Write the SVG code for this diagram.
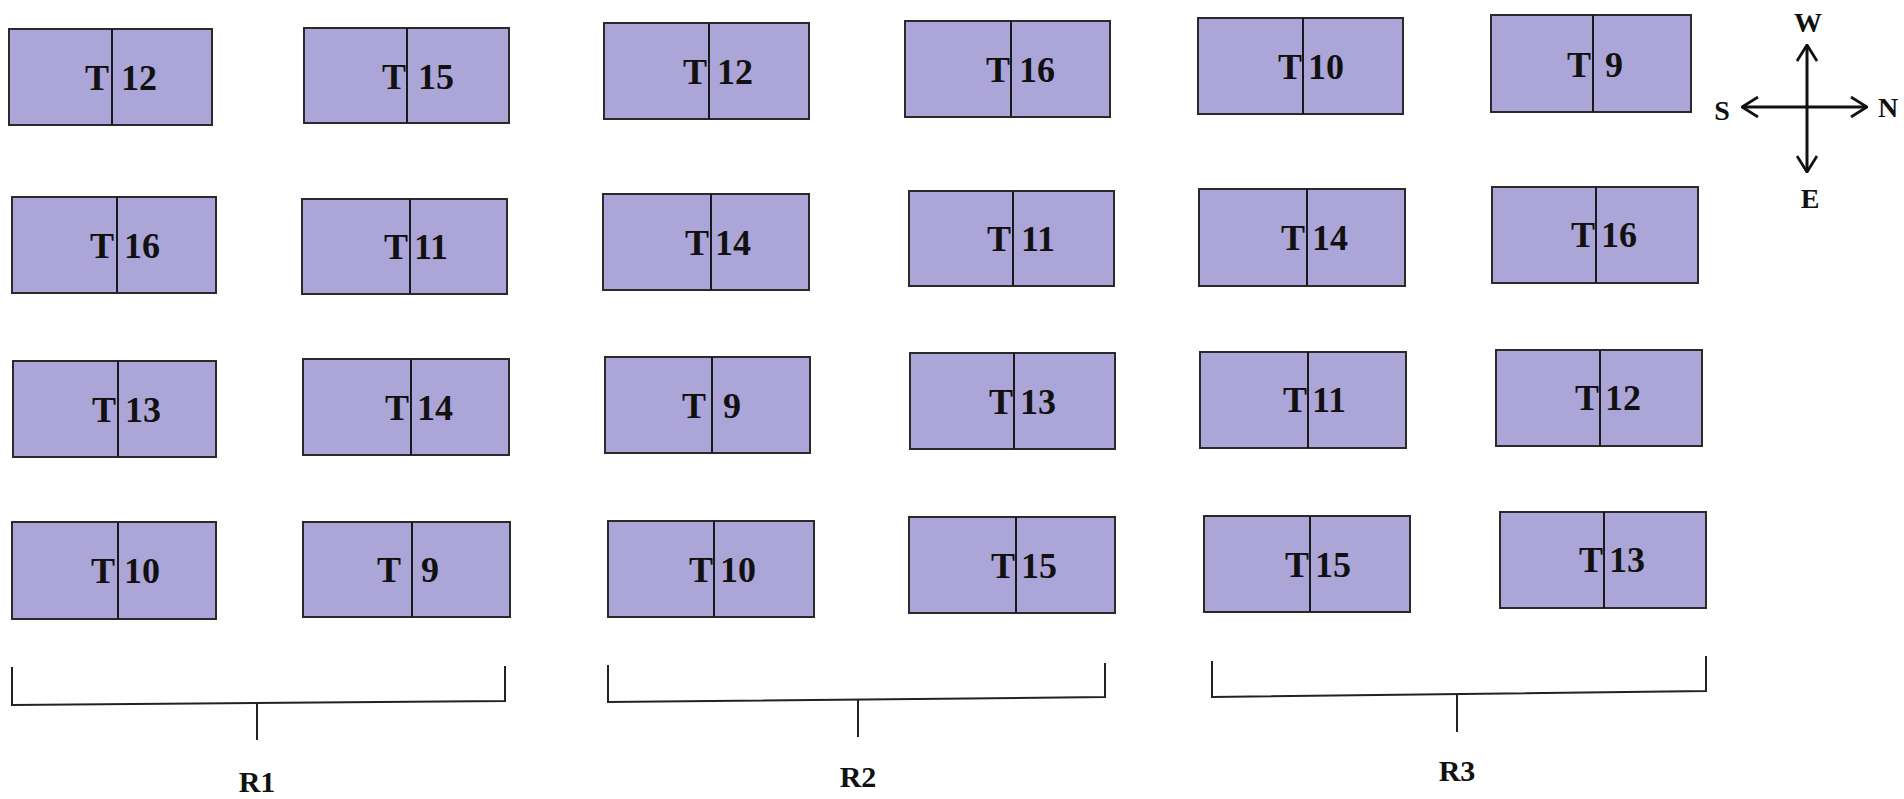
<svg xmlns="http://www.w3.org/2000/svg" width="1904" height="799" viewBox="0 0 1904 799">
<style>
.box{fill:#aca6d8;stroke:#2a2a2a;stroke-width:2}
.div{stroke:#1a1a1a;stroke-width:2}
.t{font-family:"Liberation Serif","Times New Roman",serif;font-weight:bold;font-size:36px;fill:#111}
.te{text-anchor:end}
.lbl{font-family:"Liberation Serif","Times New Roman",serif;font-weight:bold;font-size:30px;fill:#111;text-anchor:middle}
.cl{font-size:28px}
.br{fill:none;stroke:#222;stroke-width:2}
.ax{stroke:#111;stroke-width:3;fill:none}
</style>
<defs>
<marker id="ah" viewBox="0 0 18 22" refX="17" refY="11" markerWidth="18" markerHeight="22" markerUnits="userSpaceOnUse" orient="auto">
<path d="M1,1 L17,11 L1,21" fill="none" stroke="#111" stroke-width="2.8"/>
</marker>
</defs>
<rect width="1904" height="799" fill="#fff"/>

<g id="R1">
<g id="r1-1"><rect class="box" x="9" y="29" width="203" height="96"/><line class="div" x1="112" y1="29" x2="112" y2="125"/><text class="t te" x="109" y="90">T</text><text class="t" x="121" y="90">12</text></g>
<g id="r1-2"><rect class="box" x="304" y="28" width="205" height="95"/><line class="div" x1="407" y1="28" x2="407" y2="123"/><text class="t te" x="406" y="89">T</text><text class="t" x="418" y="89">15</text></g>
<g id="r1-3"><rect class="box" x="12" y="197" width="204" height="96"/><line class="div" x1="117" y1="197" x2="117" y2="293"/><text class="t te" x="114" y="258">T</text><text class="t" x="124" y="258">16</text></g>
<g id="r1-4"><rect class="box" x="302" y="199" width="205" height="95"/><line class="div" x1="410" y1="199" x2="410" y2="294"/><text class="t te" x="408" y="259">T</text><text class="t" x="414" y="259">11</text></g>
<g id="r1-5"><rect class="box" x="13" y="361" width="203" height="96"/><line class="div" x1="118" y1="361" x2="118" y2="457"/><text class="t te" x="116" y="422">T</text><text class="t" x="125" y="422">13</text></g>
<g id="r1-6"><rect class="box" x="303" y="359" width="206" height="96"/><line class="div" x1="411" y1="359" x2="411" y2="455"/><text class="t te" x="409" y="420">T</text><text class="t" x="417" y="420">14</text></g>
<g id="r1-7"><rect class="box" x="12" y="522" width="204" height="97"/><line class="div" x1="118" y1="522" x2="118" y2="619"/><text class="t te" x="115" y="583">T</text><text class="t" x="124" y="583">10</text></g>
<g id="r1-8"><rect class="box" x="303" y="522" width="207" height="95"/><line class="div" x1="412" y1="522" x2="412" y2="617"/><text class="t te" x="401" y="582">T</text><text class="t" x="421" y="582">9</text></g>
</g>

<g id="R2">
<g id="r2-1"><rect class="box" x="604" y="23" width="205" height="96"/><line class="div" x1="709" y1="23" x2="709" y2="119"/><text class="t te" x="707" y="84">T</text><text class="t" x="717" y="84">12</text></g>
<g id="r2-2"><rect class="box" x="905" y="21" width="205" height="96"/><line class="div" x1="1011" y1="21" x2="1011" y2="117"/><text class="t te" x="1010" y="82">T</text><text class="t" x="1019" y="82">16</text></g>
<g id="r2-3"><rect class="box" x="603" y="194" width="206" height="96"/><line class="div" x1="711" y1="194" x2="711" y2="290"/><text class="t te" x="709" y="255">T</text><text class="t" x="715" y="255">14</text></g>
<g id="r2-4"><rect class="box" x="909" y="191" width="205" height="95"/><line class="div" x1="1013" y1="191" x2="1013" y2="286"/><text class="t te" x="1011" y="251">T</text><text class="t" x="1021" y="251">11</text></g>
<g id="r2-5"><rect class="box" x="605" y="357" width="205" height="96"/><line class="div" x1="712" y1="357" x2="712" y2="453"/><text class="t te" x="706" y="418">T</text><text class="t" x="723" y="418">9</text></g>
<g id="r2-6"><rect class="box" x="910" y="353" width="205" height="96"/><line class="div" x1="1014" y1="353" x2="1014" y2="449"/><text class="t te" x="1013" y="414">T</text><text class="t" x="1020" y="414">13</text></g>
<g id="r2-7"><rect class="box" x="608" y="521" width="206" height="96"/><line class="div" x1="714" y1="521" x2="714" y2="617"/><text class="t te" x="713" y="582">T</text><text class="t" x="720" y="582">10</text></g>
<g id="r2-8"><rect class="box" x="909" y="517" width="206" height="96"/><line class="div" x1="1016" y1="517" x2="1016" y2="613"/><text class="t te" x="1015" y="578">T</text><text class="t" x="1021" y="578">15</text></g>
</g>

<g id="R3">
<g id="r3-1"><rect class="box" x="1198" y="18" width="205" height="96"/><line class="div" x1="1303" y1="18" x2="1303" y2="114"/><text class="t te" x="1302" y="79">T</text><text class="t" x="1308" y="79">10</text></g>
<g id="r3-2"><rect class="box" x="1491" y="15" width="200" height="97"/><line class="div" x1="1593" y1="15" x2="1593" y2="112"/><text class="t te" x="1591" y="77">T</text><text class="t" x="1605" y="77">9</text></g>
<g id="r3-3"><rect class="box" x="1199" y="189" width="206" height="97"/><line class="div" x1="1307" y1="189" x2="1307" y2="286"/><text class="t te" x="1305" y="250">T</text><text class="t" x="1312" y="250">14</text></g>
<g id="r3-4"><rect class="box" x="1492" y="187" width="206" height="96"/><line class="div" x1="1596" y1="187" x2="1596" y2="283"/><text class="t te" x="1595" y="247">T</text><text class="t" x="1601" y="247">16</text></g>
<g id="r3-5"><rect class="box" x="1200" y="352" width="206" height="96"/><line class="div" x1="1308" y1="352" x2="1308" y2="448"/><text class="t te" x="1307" y="412">T</text><text class="t" x="1312" y="412">11</text></g>
<g id="r3-6"><rect class="box" x="1496" y="350" width="206" height="96"/><line class="div" x1="1600" y1="350" x2="1600" y2="446"/><text class="t te" x="1599" y="410">T</text><text class="t" x="1605" y="410">12</text></g>
<g id="r3-7"><rect class="box" x="1204" y="516" width="206" height="96"/><line class="div" x1="1310" y1="516" x2="1310" y2="612"/><text class="t te" x="1309" y="577">T</text><text class="t" x="1315" y="577">15</text></g>
<g id="r3-8"><rect class="box" x="1500" y="512" width="206" height="96"/><line class="div" x1="1604" y1="512" x2="1604" y2="608"/><text class="t te" x="1603" y="572">T</text><text class="t" x="1609" y="572">13</text></g>
</g>

<g id="connectors">
<path class="br" d="M12,667 L12,705 L505,701 L505,666"/>
<line class="br" x1="257" y1="703" x2="257" y2="740"/>
<path class="br" d="M608,665 L608,702 L1105,697 L1105,663"/>
<line class="br" x1="858" y1="700" x2="858" y2="737"/>
<path class="br" d="M1212,661 L1212,697 L1706,691 L1706,656"/>
<line class="br" x1="1457" y1="694" x2="1457" y2="732"/>
</g>
<g id="labels">
<text class="lbl" x="257" y="792">R1</text>
<text class="lbl" x="858" y="787">R2</text>
<text class="lbl" x="1457" y="781">R3</text>
</g>

<g id="compass">
<line class="ax" x1="1807" y1="107" x2="1807" y2="45" marker-end="url(#ah)"/>
<line class="ax" x1="1807" y1="107" x2="1807" y2="172" marker-end="url(#ah)"/>
<line class="ax" x1="1807" y1="107" x2="1742" y2="107" marker-end="url(#ah)"/>
<line class="ax" x1="1807" y1="107" x2="1867" y2="107" marker-end="url(#ah)"/>
<text class="lbl cl" x="1808" y="32">W</text>
<text class="lbl cl" x="1722" y="120">S</text>
<text class="lbl cl" x="1888" y="117">N</text>
<text class="lbl cl" x="1810" y="208">E</text>
</g>
</svg>
